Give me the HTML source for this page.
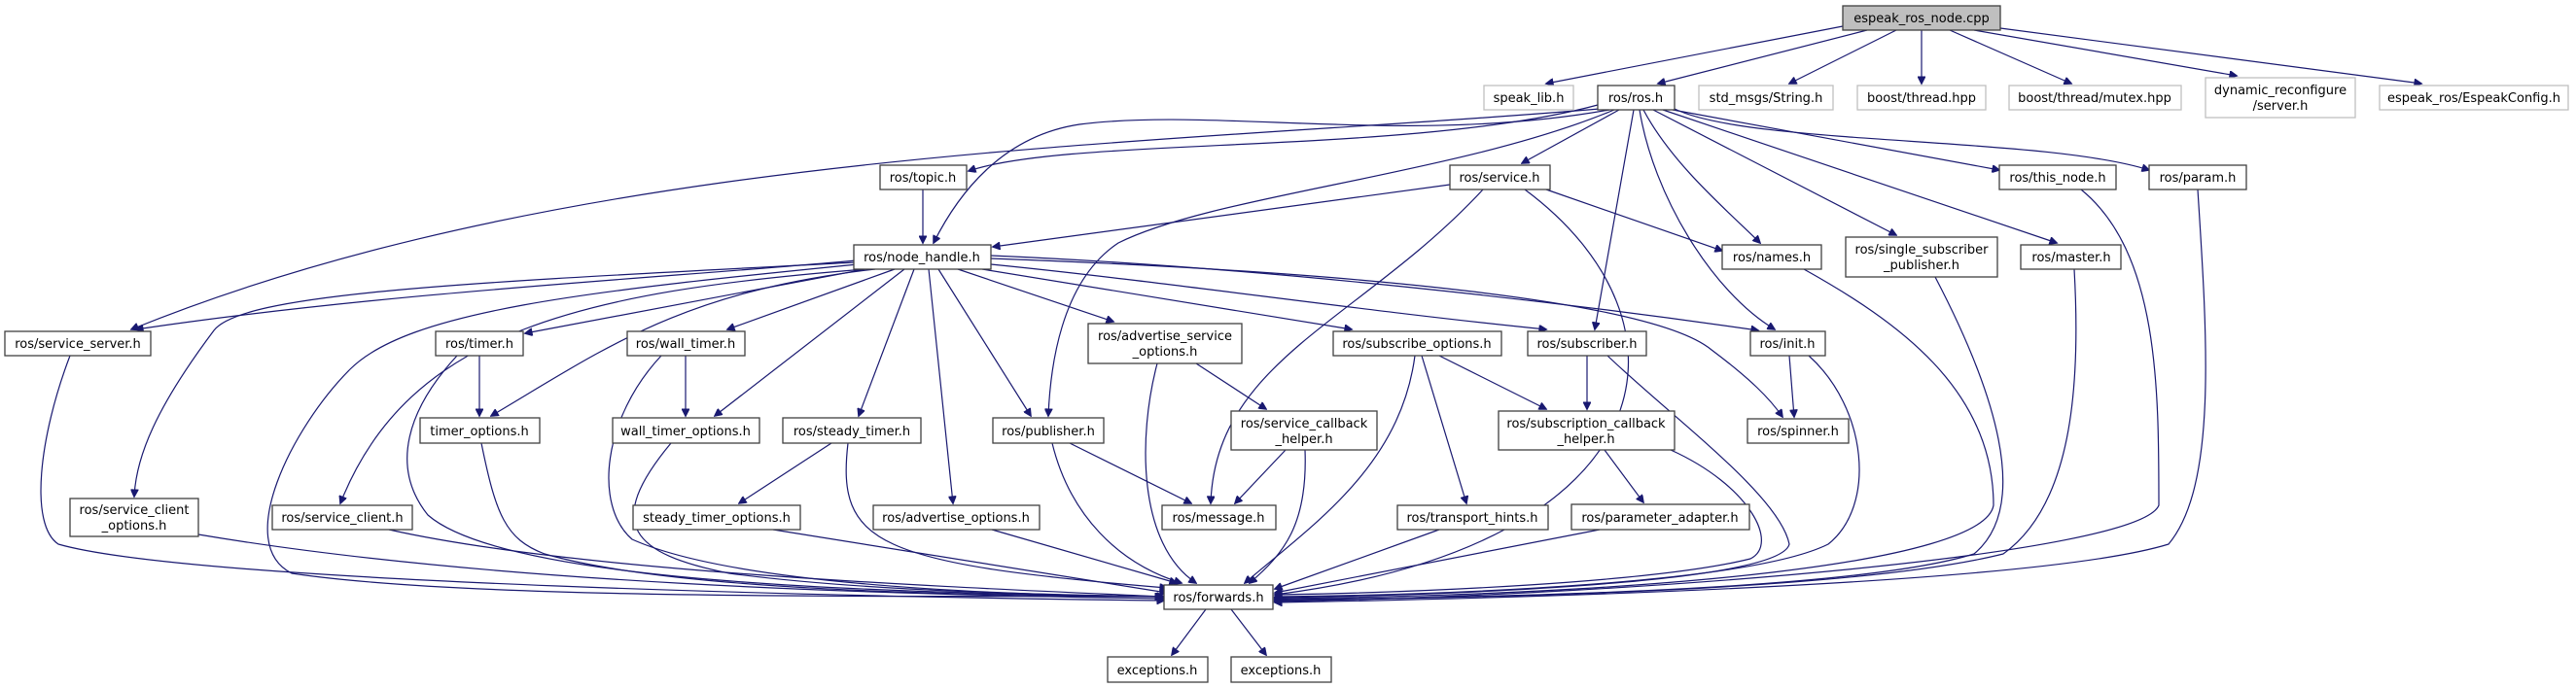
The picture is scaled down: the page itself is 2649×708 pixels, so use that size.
<!DOCTYPE html>
<html><head><meta charset="utf-8"><style>
html,body{margin:0;padding:0;background:#fff;}
svg{display:block;}
text{font-family:"DejaVu Sans","Liberation Sans",sans-serif;font-size:13px;fill:#000;}
.n{fill:#fff;stroke:#404040;stroke-width:1.3;}
.g{fill:#fff;stroke:#bfbfbf;stroke-width:1.3;}
.r{fill:#bfbfbf;stroke:#404040;stroke-width:1.3;}
path.e{fill:none;stroke:#191970;stroke-width:1.2;marker-end:url(#a);}
</style></head><body>
<svg width="2649" height="708" viewBox="0 0 2649 708" xmlns="http://www.w3.org/2000/svg">
<defs><marker id="a" viewBox="0 0 10 10" refX="9" refY="5" markerWidth="9" markerHeight="8" markerUnits="userSpaceOnUse" orient="auto"><path d="M0,0 L10,5 L0,10 z" fill="#191970" stroke="#191970"/></marker></defs>
<g>
<path class="e" d="M1895,27 L1590,86"/>
<path class="e" d="M1920,31 L1705,86"/>
<path class="e" d="M1950,31 L1840,86"/>
<path class="e" d="M1976,31 L1976,86"/>
<path class="e" d="M2005,31 L2130,86"/>
<path class="e" d="M2030,31 L2300,78"/>
<path class="e" d="M2057,29 L2490,86"/>
<path class="e" d="M1643,108 C1450,160 1100,140 996,176"/>
<path class="e" d="M1645,112 C1200,150 600,150 135,339"/>
<path class="e" d="M1655,113 C1450,150 1250,110 1110,128 C1030,140 985,200 960,250"/>
<path class="e" d="M1660,113 C1500,180 1250,200 1150,250 C1090,290 1080,380 1078,428"/>
<path class="e" d="M1665,113 L1565,168"/>
<path class="e" d="M1680,113 L1640,339"/>
<path class="e" d="M1690,113 C1720,170 1780,220 1810,250"/>
<path class="e" d="M1686,113 C1700,200 1760,300 1825,339"/>
<path class="e" d="M1700,113 L1950,242"/>
<path class="e" d="M1710,113 L2115,250"/>
<path class="e" d="M1720,113 L2056,175"/>
<path class="e" d="M1722,112 C1800,150 2100,140 2210,175"/>
<path class="e" d="M949,195 L949,250"/>
<path class="e" d="M1491,190 L1021,254"/>
<path class="e" d="M1590,195 L1771,258"/>
<path class="e" d="M1525,195 C1400,330 1250,370 1245,518"/>
<path class="e" d="M1568,195 C1750,330 1720,560 1311,612"/>
<path class="e" d="M880,268 C700,285 400,300 140,339"/>
<path class="e" d="M880,270 C500,290 250,300 220,340 C160,420 140,470 138,511"/>
<path class="e" d="M882,272 C600,300 420,320 360,380 C300,440 240,560 300,590 C500,620 1000,612 1195,614"/>
<path class="e" d="M890,277 C600,300 420,340 350,518"/>
<path class="e" d="M890,277 L540,343"/>
<path class="e" d="M900,277 C700,300 620,360 505,428"/>
<path class="e" d="M920,277 L748,339"/>
<path class="e" d="M930,277 L735,428"/>
<path class="e" d="M940,277 L883,428"/>
<path class="e" d="M955,277 L980,518"/>
<path class="e" d="M965,277 L1060,428"/>
<path class="e" d="M985,277 L1145,331"/>
<path class="e" d="M1010,277 L1390,339"/>
<path class="e" d="M1019,272 C1200,290 1400,320 1590,339"/>
<path class="e" d="M1019,263 C1300,275 1600,310 1808,340"/>
<path class="e" d="M1019,266 C1400,280 1700,310 1760,360 C1800,390 1820,410 1833,429"/>
<path class="e" d="M493,366 L493,428"/>
<path class="e" d="M470,366 C420,420 400,480 440,530 C520,600 900,610 1195,614"/>
<path class="e" d="M705,366 L705,428"/>
<path class="e" d="M680,366 C620,430 610,520 650,555 C750,600 1000,612 1195,614"/>
<path class="e" d="M495,456 C510,530 520,555 560,570 C700,610 1000,612 1197,614"/>
<path class="e" d="M690,456 C620,540 650,570 750,590 C900,610 1100,612 1197,614"/>
<path class="e" d="M855,456 L760,518"/>
<path class="e" d="M872,456 C860,560 900,580 1200,605"/>
<path class="e" d="M795,545 L1200,610"/>
<path class="e" d="M400,545 C600,590 1000,605 1197,614"/>
<path class="e" d="M204,550 C500,600 900,612 1197,616"/>
<path class="e" d="M72,366 C40,450 30,540 60,560 C200,600 900,615 1197,618"/>
<path class="e" d="M1020,545 L1210,600"/>
<path class="e" d="M1230,374 L1302,421"/>
<path class="e" d="M1190,374 C1170,450 1170,560 1230,600"/>
<path class="e" d="M1322,463 L1270,518"/>
<path class="e" d="M1342,463 C1345,540 1320,570 1285,600"/>
<path class="e" d="M1100,456 L1225,518"/>
<path class="e" d="M1082,456 C1100,530 1150,580 1215,600"/>
<path class="e" d="M1455,366 C1440,480 1350,540 1280,600"/>
<path class="e" d="M1462,366 L1508,518"/>
<path class="e" d="M1480,366 L1590,421"/>
<path class="e" d="M1632,366 L1632,421"/>
<path class="e" d="M1653,366 C1720,430 1830,510 1840,560 C1830,600 1500,612 1311,615"/>
<path class="e" d="M1650,463 L1690,517"/>
<path class="e" d="M1718,463 C1800,500 1830,560 1800,575 C1700,600 1450,610 1311,612"/>
<path class="e" d="M1480,545 L1311,606"/>
<path class="e" d="M1645,545 L1311,610"/>
<path class="e" d="M1840,366 L1845,429"/>
<path class="e" d="M1860,366 C1920,420 1930,520 1880,560 C1800,600 1500,612 1311,614"/>
<path class="e" d="M1855,277 C1950,330 2050,400 2050,520 C2040,580 1700,612 1311,616"/>
<path class="e" d="M1990,285 C2050,400 2090,520 2030,570 C1900,610 1500,615 1311,617"/>
<path class="e" d="M2133,277 C2140,400 2130,520 2060,570 C1900,610 1500,615 1311,618"/>
<path class="e" d="M2140,195 C2220,260 2220,400 2220,520 C2200,570 1700,612 1311,619"/>
<path class="e" d="M2260,195 C2270,350 2280,500 2230,560 C2100,600 1600,615 1311,620"/>
<path class="e" d="M1240,627 L1205,674"/>
<path class="e" d="M1266,627 L1302,674"/>
</g>
<g>
<rect class="r" x="1895" y="6" width="162" height="25"/><text x="1976" y="23" text-anchor="middle">espeak_ros_node.cpp</text>
<rect class="g" x="1526" y="88" width="92" height="25"/><text x="1572" y="105" text-anchor="middle">speak_lib.h</text>
<rect class="n" x="1643" y="88" width="79" height="25"/><text x="1682" y="105" text-anchor="middle">ros/ros.h</text>
<rect class="g" x="1747" y="88" width="138" height="25"/><text x="1816" y="105" text-anchor="middle">std_msgs/String.h</text>
<rect class="g" x="1910" y="88" width="132" height="25"/><text x="1976" y="105" text-anchor="middle">boost/thread.hpp</text>
<rect class="g" x="2066" y="88" width="177" height="25"/><text x="2154" y="105" text-anchor="middle">boost/thread/mutex.hpp</text>
<rect class="g" x="2268" y="80" width="154" height="41"/><text x="2345" y="97" text-anchor="middle">dynamic_reconfigure</text><text x="2345" y="113" text-anchor="middle">/server.h</text>
<rect class="g" x="2447" y="88" width="194" height="25"/><text x="2544" y="105" text-anchor="middle">espeak_ros/EspeakConfig.h</text>
<rect class="n" x="905" y="170" width="89" height="25"/><text x="949" y="187" text-anchor="middle">ros/topic.h</text>
<rect class="n" x="1491" y="170" width="103" height="25"/><text x="1542" y="187" text-anchor="middle">ros/service.h</text>
<rect class="n" x="2056" y="170" width="120" height="25"/><text x="2116" y="187" text-anchor="middle">ros/this_node.h</text>
<rect class="n" x="2210" y="170" width="100" height="25"/><text x="2260" y="187" text-anchor="middle">ros/param.h</text>
<rect class="n" x="878" y="252" width="141" height="25"/><text x="948" y="269" text-anchor="middle">ros/node_handle.h</text>
<rect class="n" x="1771" y="252" width="102" height="25"/><text x="1822" y="269" text-anchor="middle">ros/names.h</text>
<rect class="n" x="1898" y="244" width="156" height="41"/><text x="1976" y="261" text-anchor="middle">ros/single_subscriber</text><text x="1976" y="277" text-anchor="middle">_publisher.h</text>
<rect class="n" x="2078" y="252" width="103" height="25"/><text x="2130" y="269" text-anchor="middle">ros/master.h</text>
<rect class="n" x="5" y="341" width="150" height="25"/><text x="80" y="358" text-anchor="middle">ros/service_server.h</text>
<rect class="n" x="448" y="341" width="90" height="25"/><text x="493" y="358" text-anchor="middle">ros/timer.h</text>
<rect class="n" x="645" y="341" width="121" height="25"/><text x="705" y="358" text-anchor="middle">ros/wall_timer.h</text>
<rect class="n" x="1119" y="333" width="158" height="41"/><text x="1198" y="350" text-anchor="middle">ros/advertise_service</text><text x="1198" y="366" text-anchor="middle">_options.h</text>
<rect class="n" x="1371" y="341" width="173" height="25"/><text x="1457" y="358" text-anchor="middle">ros/subscribe_options.h</text>
<rect class="n" x="1571" y="341" width="122" height="25"/><text x="1632" y="358" text-anchor="middle">ros/subscriber.h</text>
<rect class="n" x="1800" y="341" width="77" height="25"/><text x="1838" y="358" text-anchor="middle">ros/init.h</text>
<rect class="n" x="432" y="430" width="123" height="26"/><text x="493" y="448" text-anchor="middle">timer_options.h</text>
<rect class="n" x="630" y="430" width="151" height="26"/><text x="705" y="448" text-anchor="middle">wall_timer_options.h</text>
<rect class="n" x="805" y="430" width="142" height="26"/><text x="876" y="448" text-anchor="middle">ros/steady_timer.h</text>
<rect class="n" x="1021" y="430" width="114" height="26"/><text x="1078" y="448" text-anchor="middle">ros/publisher.h</text>
<rect class="n" x="1266" y="423" width="150" height="40"/><text x="1341" y="440" text-anchor="middle">ros/service_callback</text><text x="1341" y="456" text-anchor="middle">_helper.h</text>
<rect class="n" x="1541" y="423" width="181" height="40"/><text x="1631" y="440" text-anchor="middle">ros/subscription_callback</text><text x="1631" y="456" text-anchor="middle">_helper.h</text>
<rect class="n" x="1797" y="431" width="104" height="25"/><text x="1849" y="448" text-anchor="middle">ros/spinner.h</text>
<rect class="n" x="72" y="513" width="132" height="39"/><text x="138" y="529" text-anchor="middle">ros/service_client</text><text x="138" y="545" text-anchor="middle">_options.h</text>
<rect class="n" x="280" y="520" width="144" height="25"/><text x="352" y="537" text-anchor="middle">ros/service_client.h</text>
<rect class="n" x="651" y="520" width="172" height="25"/><text x="737" y="537" text-anchor="middle">steady_timer_options.h</text>
<rect class="n" x="898" y="520" width="171" height="25"/><text x="983" y="537" text-anchor="middle">ros/advertise_options.h</text>
<rect class="n" x="1195" y="520" width="117" height="25"/><text x="1253" y="537" text-anchor="middle">ros/message.h</text>
<rect class="n" x="1437" y="520" width="155" height="25"/><text x="1514" y="537" text-anchor="middle">ros/transport_hints.h</text>
<rect class="n" x="1616" y="519" width="183" height="26"/><text x="1707" y="537" text-anchor="middle">ros/parameter_adapter.h</text>
<rect class="n" x="1197" y="602" width="112" height="25"/><text x="1253" y="619" text-anchor="middle">ros/forwards.h</text>
<rect class="n" x="1139" y="676" width="103" height="26"/><text x="1190" y="694" text-anchor="middle">exceptions.h</text>
<rect class="n" x="1266" y="676" width="103" height="26"/><text x="1317" y="694" text-anchor="middle">exceptions.h</text>
</g>
</svg>
</body></html>
